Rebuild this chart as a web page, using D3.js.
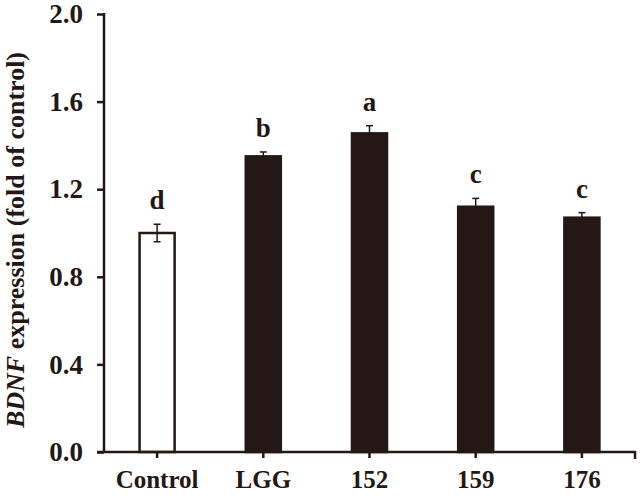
<!DOCTYPE html>
<html><head><meta charset="utf-8">
<script src="https://cdn.jsdelivr.net/npm/d3@7"></script>
<style>body{margin:0;background:#fff}svg{display:block}</style>
</head><body>
<script>
const categories = ["Control","LGG","152","159","176"];
const values = [1.00,1.35,1.455,1.12,1.07];
const errors = [0.04,0.02,0.035,0.038,0.023];
const letters = ["d","b","a","c","c"];
const fills = ["#ffffff","#231815","#231815","#231815","#231815"];
const yTicks = [0,0.4,0.8,1.2,1.6,2.0];

const W=640,H=499, ink="#231815";
const svg=d3.select("body").append("svg").attr("width",W).attr("height",H);
const x=d3.scaleBand().domain(categories).range([104,635]).paddingInner(0.67).paddingOuter(0.335);
const y=d3.scaleLinear().domain([0,2]).range([452,14]);
const font="'Liberation Serif','Times New Roman',serif";

svg.selectAll("rect.bar").data(categories).join("rect")
  .attr("x",(d)=>x(d)).attr("width",x.bandwidth())
  .attr("y",(d,i)=>y(values[i])).attr("height",(d,i)=>y(0)-y(values[i]))
  .attr("fill",(d,i)=>fills[i]).attr("stroke",ink).attr("stroke-width",2.5);

const cx=d=>x(d)+x.bandwidth()/2;
categories.forEach((d,i)=>{
  const g=svg.append("g").attr("stroke",ink).attr("stroke-width",1.5);
  const lo = i===0 ? values[i]-errors[i] : values[i];
  g.append("line").attr("x1",cx(d)).attr("x2",cx(d)).attr("y1",y(lo)).attr("y2",y(values[i]+errors[i]));
  g.append("line").attr("x1",cx(d)-3.5).attr("x2",cx(d)+3.5).attr("y1",y(values[i]+errors[i])).attr("y2",y(values[i]+errors[i]));
  if(i===0) g.append("line").attr("x1",cx(d)-3.5).attr("x2",cx(d)+3.5).attr("y1",y(lo)).attr("y2",y(lo));
});

svg.selectAll("text.sig").data(categories).join("text")
  .attr("x",d=>cx(d)).attr("y",(d,i)=>y(values[i]+errors[i])-15)
  .attr("text-anchor","middle").attr("font-family",font).attr("font-weight","bold")
  .attr("font-size",27).attr("fill",ink).text((d,i)=>letters[i]);

const yAxis=svg.append("g").attr("transform","translate(104,0)")
  .call(d3.axisLeft(y).tickValues(yTicks).tickFormat(d3.format(".1f")).tickSize(7).tickPadding(14));
yAxis.select(".domain").attr("d","M0,"+(y(0))+"V"+(y(2)-1));
const xAxis=svg.append("g").attr("transform","translate(0,452)")
  .call(d3.axisBottom(x).tickSize(6).tickPadding(12));
xAxis.select(".domain").attr("d","M97,0H635V7");
[yAxis,xAxis].forEach(a=>{
  a.selectAll("path,line").attr("stroke",ink).attr("stroke-width",2.5);
  a.selectAll("text").attr("font-family",font).attr("font-weight","bold").attr("fill",ink);
});
yAxis.selectAll("text").attr("font-size",27);
xAxis.selectAll("text").attr("font-size",25);

const t=svg.append("text").attr("transform","translate(24,240) rotate(-90)")
  .attr("text-anchor","middle").attr("font-family",font).attr("font-weight","bold")
  .attr("font-size",26).attr("fill",ink);
t.append("tspan").attr("font-style","italic").text("BDNF");
t.append("tspan").text(" expression (fold of control)");
</script>
</body></html>
